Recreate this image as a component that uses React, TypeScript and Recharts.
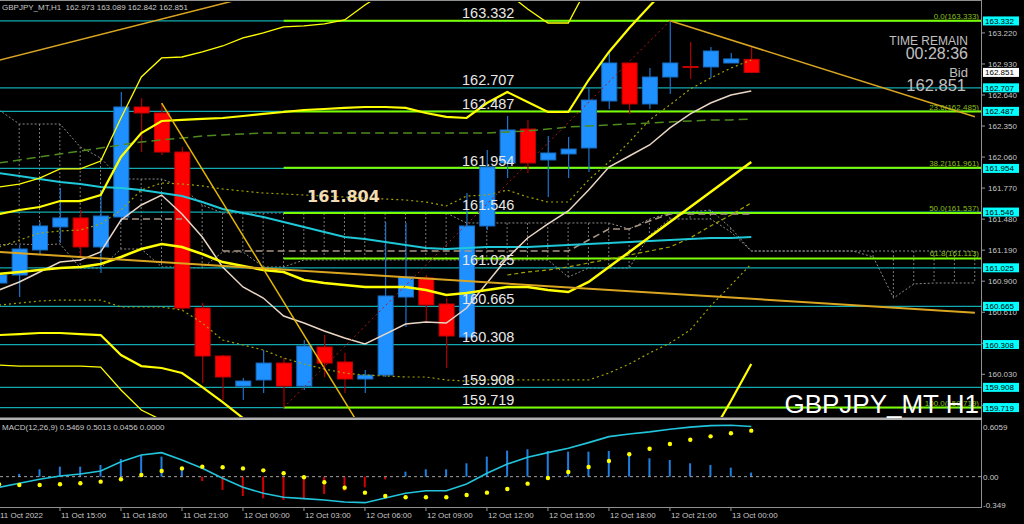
import React from 'react';
import { Bar, Cell, ComposedChart, Line, ReferenceLine, XAxis, YAxis } from 'recharts';

// GBPJPY H1 candles, 11 Oct 12:00 .. 13 Oct 01:00
const opens = [160.883, 160.958, 161.192, 161.407, 161.491, 161.22, 161.5, 162.528, 162.472, 162.107, 160.649, 160.201, 159.92, 159.977, 160.135, 159.92, 160.285, 160.145, 159.986, 160.023, 160.752, 160.93, 160.687, 160.378, 161.416, 162.005, 162.322, 162.033, 162.089, 162.145, 162.584, 162.939, 162.556, 162.808, 162.906, 162.902, 162.939, 162.973];
const closes = [160.958, 161.201, 161.416, 161.491, 161.22, 161.509, 162.528, 162.472, 162.107, 160.649, 160.201, 160.005, 159.967, 160.135, 159.92, 160.294, 160.135, 159.986, 160.023, 160.762, 160.939, 160.678, 160.388, 161.416, 161.967, 162.313, 162.005, 162.098, 162.135, 162.593, 162.939, 162.556, 162.808, 162.939, 162.897, 163.051, 162.977, 162.851];
const highs = [161.005, 161.238, 161.453, 161.771, 161.565, 161.752, 162.668, 162.612, 162.565, 162.154, 160.696, 160.21, 159.995, 160.257, 160.182, 160.35, 160.397, 160.229, 160.07, 161.453, 161.444, 160.958, 160.74, 161.724, 162.126, 162.444, 162.407, 162.257, 162.248, 162.715, 163.042, 162.939, 162.892, 163.333, 163.135, 163.089, 163.033, 163.089];
const lows = [160.818, 160.752, 161.145, 161.257, 161.126, 160.977, 161.453, 162.107, 162.079, 160.631, 159.948, 159.79, 159.79, 159.855, 159.719, 159.883, 160.005, 159.855, 159.855, 160.005, 160.472, 160.509, 160.089, 160.35, 161.379, 161.864, 161.911, 161.687, 161.864, 161.92, 162.509, 162.463, 162.509, 162.649, 162.79, 162.799, 162.939, 162.842];

// indicators
const bbMid = [160.968, 160.986, 161.005, 161.023, 161.033, 161.061, 161.126, 161.201, 161.248, 161.22, 161.154, 161.079, 161.042, 161.005, 160.986, 160.911, 160.883, 160.864, 160.846, 160.846, 160.846, 160.818, 160.771, 160.79, 160.818, 160.846, 160.846, 160.818, 160.799, 160.893, 161.033, 161.173, 161.313, 161.453, 161.594, 161.734, 161.874, 162.014];
const bbUpper = [161.528, 161.565, 161.593, 161.649, 161.649, 161.705, 162.061, 162.285, 162.397, 162.407, 162.416, 162.425, 162.444, 162.463, 162.481, 162.5, 162.509, 162.519, 162.528, 162.528, 162.519, 162.472, 162.435, 162.425, 162.565, 162.668, 162.575, 162.481, 162.481, 162.78, 163.042, 163.266, 163.472, 163.668, 163.855, 163.995, 164.042, 163.921];
const bbLower = [160.397, 160.406, 160.416, 160.416, 160.406, 160.397, 160.21, 160.107, 160.089, 160.042, 159.911, 159.771, 159.621, 159.528, 159.491, 159.36, 159.275, 159.229, 159.182, 159.163, 159.173, 159.163, 159.107, 159.135, 159.088, 159.042, 159.116, 159.154, 159.135, 159.042, 159.042, 159.06, 159.135, 159.21, 159.275, 159.453, 159.78, 160.126];
const bbUpperWide = [161.78, 161.808, 161.864, 161.949, 161.949, 162.023, 162.425, 162.808, 162.986, 162.995, 163.042, 163.098, 163.173, 163.22, 163.276, 163.285, 163.304, 163.341, 163.481, 163.603, 163.668, 163.668, 163.64, 163.603, 163.762, 163.593, 163.444, 163.313, 163.313, 163.668, 163.995, 164.369, 164.743, 165.023, 165.304, 165.491, 165.631, 165.678];
const bbLowerWide = [160.117, 160.107, 160.107, 160.107, 160.107, 160.098, 159.883, 159.696, 159.603, 159.528, 159.369, 159.21, 158.995];
const maFast = [160.818, 160.893, 160.986, 161.079, 161.098, 161.173, 161.472, 161.612, 161.705, 161.528, 161.313, 161.033, 160.846, 160.743, 160.575, 160.509, 160.435, 160.369, 160.313, 160.406, 160.5, 160.519, 160.509, 160.649, 160.883, 161.117, 161.304, 161.435, 161.556, 161.752, 161.967, 162.07, 162.173, 162.332, 162.463, 162.565, 162.64, 162.677];
const maSlow = [161.911, 161.883, 161.855, 161.827, 161.808, 161.78, 161.771, 161.752, 161.724, 161.696, 161.64, 161.575, 161.537, 161.5, 161.453, 161.406, 161.36, 161.313, 161.294, 161.266, 161.238, 161.21, 161.201, 161.21, 161.22, 161.22, 161.22, 161.229, 161.238, 161.248, 161.257, 161.266, 161.276, 161.285, 161.294, 161.304, 161.304, 161.313];
const maLong = [162.005, 162.033, 162.061, 162.089, 162.117, 162.145, 162.173, 162.201, 162.22, 162.238, 162.257, 162.266, 162.276, 162.285, 162.285, 162.285, 162.285, 162.285, 162.285, 162.285, 162.285, 162.285, 162.285, 162.285, 162.285, 162.294, 162.304, 162.322, 162.341, 162.351, 162.36, 162.369, 162.379, 162.388, 162.397, 162.407, 162.407, 162.416];
const envUpper = [161.22, 161.285, 161.35, 161.369, 161.378, 161.435, 161.565, 161.752, 161.818, 161.808, 161.79, 161.762, 161.743, 161.724, 161.715, 161.705, 161.696, 161.687, 161.678, 161.668, 161.659, 161.64, 161.603, 161.696, 161.705, 161.752, 161.687, 161.64, 161.64, 161.846, 162.014, 162.201, 162.407, 162.547, 162.696, 162.799, 162.892, 162.967];
const envLower = [160.677, 160.696, 160.715, 160.724, 160.724, 160.724, 160.659, 160.659, 160.659, 160.631, 160.509, 160.35, 160.304, 160.257, 160.182, 160.126, 160.079, 160.042, 160.023, 160.014, 160.005, 160.005, 159.977, 159.967, 159.977, 159.977, 159.977, 159.977, 159.977, 159.977, 160.042, 160.126, 160.229, 160.322, 160.444, 160.668, 160.864, 161.061];
const envExtra = [null, null, null, null, null, null, null, null, null, null, null, null, null, null, null, null, null, null, null, null, null, null, null, null, null, 160.958, 160.986, 161.005, 161.033, 161.07, 161.107, 161.145, 161.182, 161.22, 161.304, 161.416, 161.519, 161.631];
const kijun = [null, null, null, null, null, null, 161.481, 161.481, 161.481, 161.481, null, 161.182, 161.182, 161.182, 161.182, 161.182, 161.182, 161.182, 161.182, 161.182, 161.182, 161.182, 161.182, 161.182, 161.182, 161.182, 161.182, 161.182, 161.182, 161.285, 161.388, 161.388, 161.463, 161.528, 161.528, 161.528, 161.528, 161.528];
// cloud runs 11 bars past the last candle
const cloudTop = [162.5, 162.369, 162.369, 162.369, 162.154, 162.051, 161.855, 161.855, 161.855, 161.78, 161.612, 161.537, 161.537, 161.537, 161.537, 161.537, 161.537, 161.537, 161.537, 161.537, 161.537, 161.537, 161.537, 161.444, 161.444, 161.444, 161.444, 161.444, 161.444, 161.444, 161.444, 161.388, 161.481, 161.537, 161.547, 161.565, 161.397, 161.182, 161.182, 161.182, 161.182, 161.182, 161.182, 161.182, 161.182, 161.182, 161.182, 161.182, 161.182];
const cloudBottom = [161.239, 161.248, 161.239, 161.248, 161.023, 161.023, 161.201, 161.201, 161.033, 161.033, 161.023, 161.173, 161.173, 161.033, 161.033, 161.098, 161.098, 161.098, 161.098, 161.098, 161.098, 161.098, 161.098, 161.098, 161.098, 161.098, 161.098, 161.098, 160.939, 161.023, 161.023, 161.023, 161.332, 161.481, 161.481, 161.481, 161.36, 161.182, 161.182, 161.182, 161.182, 161.182, 161.182, 161.126, 160.743, 160.874, 160.883, 160.883, 160.883];

const macdLine = [-0.13, -0.08, -0.032, 0.008, 0.033, 0.07, 0.183, 0.265, 0.293, 0.204, 0.102, -0.02, -0.13, -0.202, -0.251, -0.268, -0.284, -0.309, -0.317, -0.26, -0.202, -0.171, -0.171, -0.09, 0.041, 0.154, 0.236, 0.293, 0.346, 0.415, 0.488, 0.521, 0.546, 0.579, 0.604, 0.623, 0.628, 0.611];
const macdSignal = [-0.093, -0.101, -0.101, -0.093, -0.08, -0.061, -0.032, 0.021, 0.07, 0.101, 0.122, 0.115, 0.101, 0.077, 0.041, -0.007, -0.068, -0.134, -0.195, -0.235, -0.251, -0.251, -0.251, -0.223, -0.195, -0.15, -0.085, -0.016, 0.057, 0.118, 0.191, 0.273, 0.341, 0.398, 0.451, 0.492, 0.529, 0.561];
const macdHist = [-0.037, 0.033, 0.09, 0.122, 0.122, 0.143, 0.216, 0.264, 0.244, 0.1, -0.053, -0.163, -0.236, -0.264, -0.284, -0.264, -0.211, -0.171, -0.13, -0.033, 0.061, 0.09, 0.09, 0.163, 0.244, 0.317, 0.334, 0.313, 0.305, 0.305, 0.313, 0.273, 0.224, 0.204, 0.163, 0.143, 0.11, 0.05];

// hand-drawn objects: [bar index, price]
const trendTop = [[0, 162.965], [12, 163.542]];
const trendBase = [[0, 161.173], [48, 160.606]];
const trendDrop = [[8, 162.565], [18, 159.467]];
const trendHigh = [[33, 163.333], [48, 162.437]];
const zigzag = [[14, 159.719], [33, 163.333]];

const levels = [163.332, 162.707, 162.487, 161.954, 161.546, 161.025, 160.665, 160.308, 159.908, 159.719];
const fibLevels = [163.333, 162.485, 161.961, 161.537, 161.113, 159.719];
const fibNames = ['0.0', '23.6', '38.2', '50.0', '61.8', '100.0'];
const fibStart = 14;
const bid = 162.851;

const priceTicks = [163.22, 162.93, 162.64, 162.35, 162.06, 161.77, 161.48, 161.19, 160.9, 160.61, 160.32, 160.03, 159.74];
const macdTicks = [0.6059, 0, -0.349];
const macdTickLabels = ['0.6059', '0.00', '-0.349'];
const timeTickIdx = [0, 3, 6, 9, 12, 15, 18, 21, 24, 27, 30, 33, 36];
const timeLabels = ['11 Oct 2022', '11 Oct 15:00', '11 Oct 18:00', '11 Oct 21:00', '12 Oct 00:00', '12 Oct 03:00', '12 Oct 06:00', '12 Oct 09:00', '12 Oct 12:00', '12 Oct 15:00', '12 Oct 18:00', '12 Oct 21:00', '13 Oct 00:00'];

const FONT = "'Liberation Sans', Arial, sans-serif";
const X_DOMAIN = [0.049, 48.3];
const Y_DOMAIN = [159.631, 163.509];
const MAIN_H = 419;

const at = (arr: any[], i: number) => (i < arr.length ? arr[i] : null);

const rows = Array.from({ length: 49 }, (_, i) => {
  const r: any = { i, spanA: cloudTop[i], spanB: cloudBottom[i] };
  if (i < opens.length) {
    r.o = opens[i];
    r.c = closes[i];
    r.h = highs[i];
    r.l = lows[i];
    r.hist = macdHist[i];
    r.macd = macdLine[i];
    r.sig = macdSignal[i];
  }
  r.bbMid = at(bbMid, i);
  r.bbUp = at(bbUpper, i);
  r.bbLo = at(bbLower, i);
  r.bbUpW = at(bbUpperWide, i);
  r.bbLoW = at(bbLowerWide, i);
  r.maFast = at(maFast, i);
  r.maSlow = at(maSlow, i);
  r.maLong = at(maLong, i);
  r.envUp = at(envUpper, i);
  r.envLo = at(envLower, i);
  r.envX = at(envExtra, i);
  r.kijun = at(kijun, i);
  return r;
});
const put = (key: string, pts: number[][]) => pts.forEach(([i, p]) => { rows[i][key] = p; });
put('t1', trendTop);
put('t2', trendBase);
put('t3', trendDrop);
put('t4', trendHigh);
put('zz', zigzag);

const Candle = (props: any) => {
  const { x, y, width, height, payload } = props;
  if (!payload || payload.o == null || !height) return null;
  const { o, c, h, l } = payload;
  const py = (p: number) => y + ((h - p) / (h - l)) * height;
  const up = c >= o;
  const top = py(Math.max(o, c));
  const bot = py(Math.min(o, c));
  const cx = x + width / 2;
  return (
    <g>
      <line x1={cx} x2={cx} y1={y} y2={y + height} stroke={up ? '#1c74cc' : '#a80000'} strokeWidth={1.2} />
      <rect x={x} y={top} width={width} height={Math.max(bot - top, 1)} fill={up ? '#1e90ff' : '#ff0000'} stroke={up ? '#1a6fc4' : '#c40000'} strokeWidth={1} />
    </g>
  );
};

const CloudHatch = (props: any) => {
  const { x, y, width, height } = props;
  if (height == null || Math.abs(height) < 0.5) return null;
  const cx = x + width / 2;
  return <line x1={cx} x2={cx} y1={y} y2={y + height} stroke="#7a7a7a" strokeDasharray="2 2" />;
};

const PriceTick = (props: any) => {
  const { x, y, payload } = props;
  return (
    <g>
      <line x1={x} x2={x + 4} y1={y} y2={y} stroke="#9a9a9a" />
      <text x={x + 7} y={y + 3} fontSize={8} fill="#c8c8c8" fontFamily={FONT}>{Number(payload.value).toFixed(3)}</text>
    </g>
  );
};

const MacdTick = (props: any) => {
  const { x, y, payload } = props;
  const k = macdTicks.indexOf(payload.value);
  return (
    <text x={x + 2} y={y + 3} fontSize={8} fill="#c8c8c8" fontFamily={FONT}>{macdTickLabels[k]}</text>
  );
};

const TimeTick = (props: any) => {
  const { x, y, payload } = props;
  const k = timeTickIdx.indexOf(payload.value);
  return (
    <g>
      <line x1={x} x2={x} y1={y} y2={y + 4} stroke="#9a9a9a" />
      <text x={x + 1} y={y + 10.5} fontSize={8} fill="#c8c8c8" fontFamily={FONT}>{timeLabels[k]}</text>
    </g>
  );
};

const LevelTag = (props: any) => {
  const { viewBox, price } = props;
  if (!viewBox) return null;
  const { x, y, width } = viewBox;
  const label = price.toFixed(3);
  return (
    <g>
      <text x={x + 462} y={y - 2.5} fill="#e8e8e8" fontSize={14.5} fontFamily={FONT}>{label}</text>
      <rect x={x + width + 2} y={y - 4.5} width={36} height={9} fill="#00ffff" />
      <text x={x + width + 4} y={y + 3} fill="#000" fontSize={8} fontFamily={FONT}>{label}</text>
    </g>
  );
};

const BidTag = (props: any) => {
  const { viewBox } = props;
  if (!viewBox) return null;
  const { x, y, width } = viewBox;
  return (
    <g>
      <rect x={x + width + 2} y={y - 4.5} width={36} height={9} fill="#ffffff" />
      <text x={x + width + 4} y={y + 3} fill="#000" fontSize={8} fontFamily={FONT}>{bid.toFixed(3)}</text>
    </g>
  );
};

const FibTag = (props: any) => {
  const { viewBox, name, price } = props;
  if (!viewBox) return null;
  const { x, y, width } = viewBox;
  return (
    <text x={x + width - 2} y={y - 2} textAnchor="end" fill="#8cbf1a" fontSize={8} fontFamily={FONT}>
      {`${name}(${price.toFixed(3)})`}
    </text>
  );
};

const layer: React.CSSProperties = { position: 'absolute', left: 0, top: 0 };
const mainMargin = { top: 2, right: 43, bottom: 2, left: 0 };

export default function App() {
  return (
    <div style={{ position: 'fixed', left: 0, top: 0, width: 1024, height: 524, background: '#000', overflow: 'hidden' }}>
      {/* layer 1: cloud and horizontal levels */}
      <div style={layer}>
        <ComposedChart width={1024} height={MAIN_H} data={rows} margin={mainMargin}>
          <XAxis type="number" dataKey="i" domain={X_DOMAIN} allowDataOverflow hide />
          <YAxis type="number" domain={Y_DOMAIN} allowDataOverflow hide />
          <Bar
            dataKey={(d: any) => (d.spanA == null ? null : [Math.min(d.spanA, d.spanB), Math.max(d.spanA, d.spanB)])}
            barSize={2}
            shape={<CloudHatch />}
            isAnimationActive={false}
          />
          <Line dataKey="spanA" stroke="#8a8a8a" strokeDasharray="2 2" strokeWidth={1} dot={false} isAnimationActive={false} />
          <Line dataKey="spanB" stroke="#8a8a8a" strokeDasharray="2 2" strokeWidth={1} dot={false} isAnimationActive={false} />
          {levels.map((p) => (
            <ReferenceLine key={`lv${p}`} y={p} stroke="#12a9b0" strokeWidth={1.3} />
          ))}
          {fibLevels.map((p) => (
            <ReferenceLine key={`fb${p}`} segment={[{ x: fibStart, y: p }, { x: X_DOMAIN[1], y: p }]} stroke="#7cfc00" strokeWidth={2} />
          ))}
        </ComposedChart>
      </div>

      {/* layer 2: candles and indicators */}
      <div style={layer}>
        <ComposedChart width={1024} height={MAIN_H} data={rows} margin={{ ...mainMargin, right: 0 }}>
          <XAxis type="number" dataKey="i" domain={X_DOMAIN} allowDataOverflow hide />
          <YAxis
            type="number"
            orientation="right"
            width={43}
            domain={Y_DOMAIN}
            allowDataOverflow
            ticks={priceTicks}
            interval={0}
            tick={<PriceTick />}
            tickSize={0}
            tickMargin={0}
            axisLine={false}
            tickLine={false}
          />
          <Bar
            dataKey={(d: any) => (d.o == null ? null : [d.l, d.h])}
            barSize={15}
            shape={<Candle />}
            isAnimationActive={false}
          />
          <Line dataKey="kijun" stroke="#a89684" strokeDasharray="7 4" strokeWidth={1.5} dot={false} isAnimationActive={false} />
          <Line dataKey="maLong" stroke="#4f8a1c" strokeDasharray="9 5" strokeWidth={1.5} dot={false} isAnimationActive={false} />
          <Line dataKey="envUp" stroke="#a3a300" strokeDasharray="2 3" strokeWidth={1.2} dot={false} isAnimationActive={false} />
          <Line dataKey="envLo" stroke="#a3a300" strokeDasharray="2 3" strokeWidth={1.2} dot={false} isAnimationActive={false} />
          <Line dataKey="envX" stroke="#a3a300" strokeDasharray="4 3" strokeWidth={1.2} dot={false} isAnimationActive={false} />
          <Line dataKey="maSlow" stroke="#1ec8d8" strokeWidth={2} dot={false} isAnimationActive={false} />
          <Line dataKey="maFast" stroke="#ead6c4" strokeWidth={1.5} dot={false} isAnimationActive={false} />
          <Line dataKey="bbUpW" stroke="#ffff00" strokeWidth={1.3} dot={false} isAnimationActive={false} />
          <Line dataKey="bbLoW" stroke="#ffff00" strokeWidth={1.3} dot={false} isAnimationActive={false} />
          <Line dataKey="bbUp" stroke="#ffff00" strokeWidth={2.2} dot={false} isAnimationActive={false} />
          <Line dataKey="bbLo" stroke="#ffff00" strokeWidth={2.2} dot={false} isAnimationActive={false} />
          <Line dataKey="bbMid" stroke="#ffff00" strokeWidth={2.5} dot={false} isAnimationActive={false} />
          <Line dataKey="t1" stroke="#daa520" strokeWidth={1.5} dot={false} connectNulls isAnimationActive={false} />
          <Line dataKey="t2" stroke="#daa520" strokeWidth={2} dot={false} connectNulls isAnimationActive={false} />
          <Line dataKey="t3" stroke="#e6b800" strokeWidth={1.5} dot={false} connectNulls isAnimationActive={false} />
          <Line dataKey="t4" stroke="#daa520" strokeWidth={1.5} dot={false} connectNulls isAnimationActive={false} />
          <Line dataKey="zz" stroke="#b01818" strokeDasharray="2 3" strokeWidth={1} dot={false} connectNulls isAnimationActive={false} />
        </ComposedChart>
      </div>

      {/* layer 3: level labels and axis tags */}
      <div style={layer}>
        <ComposedChart width={1024} height={MAIN_H} data={rows} margin={mainMargin}>
          <XAxis type="number" dataKey="i" domain={X_DOMAIN} allowDataOverflow hide />
          <YAxis type="number" domain={Y_DOMAIN} allowDataOverflow hide />
          {fibLevels.map((p, k) => (
            <ReferenceLine
              key={`ft${p}`}
              segment={[{ x: fibStart, y: p }, { x: X_DOMAIN[1], y: p }]}
              stroke="none"
              label={<FibTag name={fibNames[k]} price={p} />}
            />
          ))}
          {levels.map((p) => (
            <ReferenceLine key={`lt${p}`} y={p} stroke="none" label={<LevelTag price={p} />} />
          ))}
          <ReferenceLine y={bid} stroke="none" label={<BidTag />} />
        </ComposedChart>
      </div>

      {/* MACD window */}
      <div style={{ position: 'absolute', left: 0, top: 419 }}>
        <ComposedChart width={1024} height={105} data={rows} margin={{ top: 2, right: 0, bottom: 0, left: 0 }}>
          <XAxis
            type="number"
            dataKey="i"
            domain={X_DOMAIN}
            allowDataOverflow
            height={17}
            ticks={timeTickIdx}
            interval={0}
            tick={<TimeTick />}
            tickSize={0}
            tickMargin={0}
            axisLine={false}
            tickLine={false}
          />
          <YAxis
            type="number"
            orientation="right"
            width={43}
            domain={[-0.37, 0.679]}
            allowDataOverflow
            ticks={macdTicks}
            interval={0}
            tick={<MacdTick />}
            tickSize={0}
            tickMargin={0}
            axisLine={false}
            tickLine={false}
          />
          <ReferenceLine y={0} stroke="#a0a0a0" strokeDasharray="3 3" />
          <Bar dataKey="hist" barSize={2} isAnimationActive={false}>
            {rows.map((r) => (
              <Cell key={`h${r.i}`} fill={r.hist >= 0 ? '#1f7fe0' : '#d40000'} />
            ))}
          </Bar>
          <Line dataKey="macd" stroke="#22c4dc" strokeWidth={1.6} dot={false} isAnimationActive={false} />
          <Line
            dataKey="sig"
            stroke="none"
            dot={{ r: 2.2, fill: '#ffff00', stroke: 'none' }}
            isAnimationActive={false}
          />
        </ComposedChart>
      </div>

      {/* window frame and terminal texts */}
      <svg width={1024} height={524} style={{ ...layer, pointerEvents: 'none' }} fontFamily={FONT}>
        <line x1={0} x2={981} y1={0.5} y2={0.5} stroke="#909090" />
        <line x1={981.5} x2={981.5} y1={0} y2={508} stroke="#909090" />
        <rect x={0} y={417.5} width={982} height={2.5} fill="#b0b0b0" />
        <line x1={0} x2={982} y1={507.5} y2={507.5} stroke="#909090" />
        <text x={2} y={10} fontSize={8} fill="#c8c8c8" style={{ whiteSpace: 'pre' }}>
          {'GBPJPY_MT,H1  162.973 163.089 162.842 162.851'}
        </text>
        <text x={2} y={430} fontSize={8} fill="#c8c8c8">
          MACD(12,26,9) 0.5469 0.5013 0.0456 0.0000
        </text>
        <text x={968} y={45} textAnchor="end" fontSize={12} fill="#c0c0c0">TIME REMAIN</text>
        <text x={968} y={58.5} textAnchor="end" fontSize={16} fill="#c0c0c0">00:28:36</text>
        <text x={968} y={77} textAnchor="end" fontSize={13} fill="#c0c0c0">Bid</text>
        <text x={966} y={91} textAnchor="end" fontSize={16.5} fill="#c0c0c0">162.851</text>
        <text x={307} y={202} fontSize={16} fontWeight="bold" fill="#f2dcb4" fontFamily="'DejaVu Sans', sans-serif">161.804</text>
        <text x={979} y={413} textAnchor="end" fontSize={26} fill="#ffffff">GBPJPY_MT H1</text>
      </svg>
    </div>
  );
}
